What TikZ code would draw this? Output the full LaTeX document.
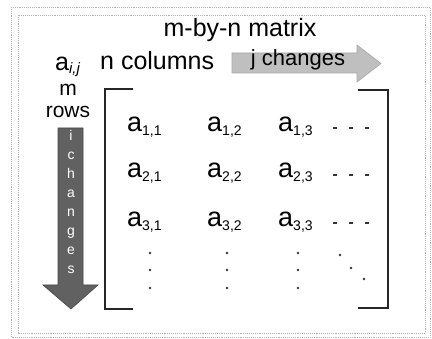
\documentclass[tikz,border=0pt]{standalone}
\usepackage{fontspec}
\setmainfont{Liberation Sans}
\newcommand{\entry}[2]{{\fontsize{27}{30}\selectfont a\raisebox{-3.5pt}{\fontsize{14}{16}\selectfont #1,#2}}}
\begin{document}
\begin{tikzpicture}[x=1pt,y=-1pt,
  frame/.style={gray!60, densely dotted, line width=0.9pt},
  lbl/.style={inner sep=0pt, anchor=base},
  ent/.style={inner sep=0pt, anchor=base west},
  brk/.style={black!85, line width=1.8pt},
  dotmark/.style={fill=black!80, draw=none},
  dashmark/.style={black!80, line width=1.8pt}]
\useasboundingbox (0,0) rectangle (432,339);
% frame
\draw[frame] (11,7) rectangle (430,337);
\draw[frame] (18,15) rectangle (425,333);
% title and labels
\node[lbl] (title) at (240,37) {\fontsize{25}{28}\selectfont m-by-n matrix};
\node[lbl, anchor=base west] (aij) at (55,71) {\fontsize{25}{28}\selectfont a\raisebox{-3pt}{\fontsize{15}{17}\selectfont\itshape i,j}};
\node[lbl, anchor=base west] (ncols) at (100,70) {\fontsize{25}{28}\selectfont n columns};
% j changes arrow
\fill[gray!50, draw=gray!70, line width=0.6pt]
  (232,53) -- (357,53) -- (357,45) -- (381,63.5) -- (357,82) -- (357,73) -- (232,73) -- cycle;
\node[lbl] (jchg) at (298,66) {\fontsize{22}{24}\selectfont j changes};
% m rows
\node[lbl] (mlab) at (68,96) {\fontsize{21}{24}\selectfont m};
\node[lbl] (rows) at (68,118) {\fontsize{21}{24}\selectfont rows};
% i changes arrow
\fill[black!62, draw=black!72, line width=0.6pt]
  (58,128) -- (83,128) -- (83,285) -- (98,285) -- (71,309) -- (43,285) -- (58,285) -- cycle;
\node[inner sep=0pt, align=center, text=white, font=\fontsize{14}{19}\selectfont] (ichg) at (71,202)
  {i\\c\\h\\a\\n\\g\\e\\s};
% brackets
\draw[brk] (133,89) -- (105,89) -- (105,309) -- (133,309);
\draw[brk] (358,90) -- (388,90) -- (388,308) -- (358,308);
% entries
\node[ent] (a11) at (127,132) {\entry{1}{1}};
\node[ent] (a12) at (207,132) {\entry{1}{2}};
\node[ent] (a13) at (278,132) {\entry{1}{3}};
\node[ent] (a21) at (127,178) {\entry{2}{1}};
\node[ent] (a22) at (207,178) {\entry{2}{2}};
\node[ent] (a23) at (278,178) {\entry{2}{3}};
\node[ent] (a31) at (127,227) {\entry{3}{1}};
\node[ent] (a32) at (207,227) {\entry{3}{2}};
\node[ent] (a33) at (278,227) {\entry{3}{3}};
% horizontal dashes
\foreach \yy in {128,175,223} {
  \foreach \xx in {335,351,367} {
    \draw[dashmark] (\xx-2,\yy) -- (\xx+2,\yy);
  }
}
% vertical dots
\foreach \xx in {150,227,298} {
  \foreach \yy in {253,270,288} {
    \fill[dotmark] (\xx,\yy) circle (1.4);
  }
}
% diagonal dots
\fill[dotmark] (340,255) circle (1.4);
\fill[dotmark] (351,268) circle (1.4);
\fill[dotmark] (364,279) circle (1.4);
\end{tikzpicture}
\end{document}
